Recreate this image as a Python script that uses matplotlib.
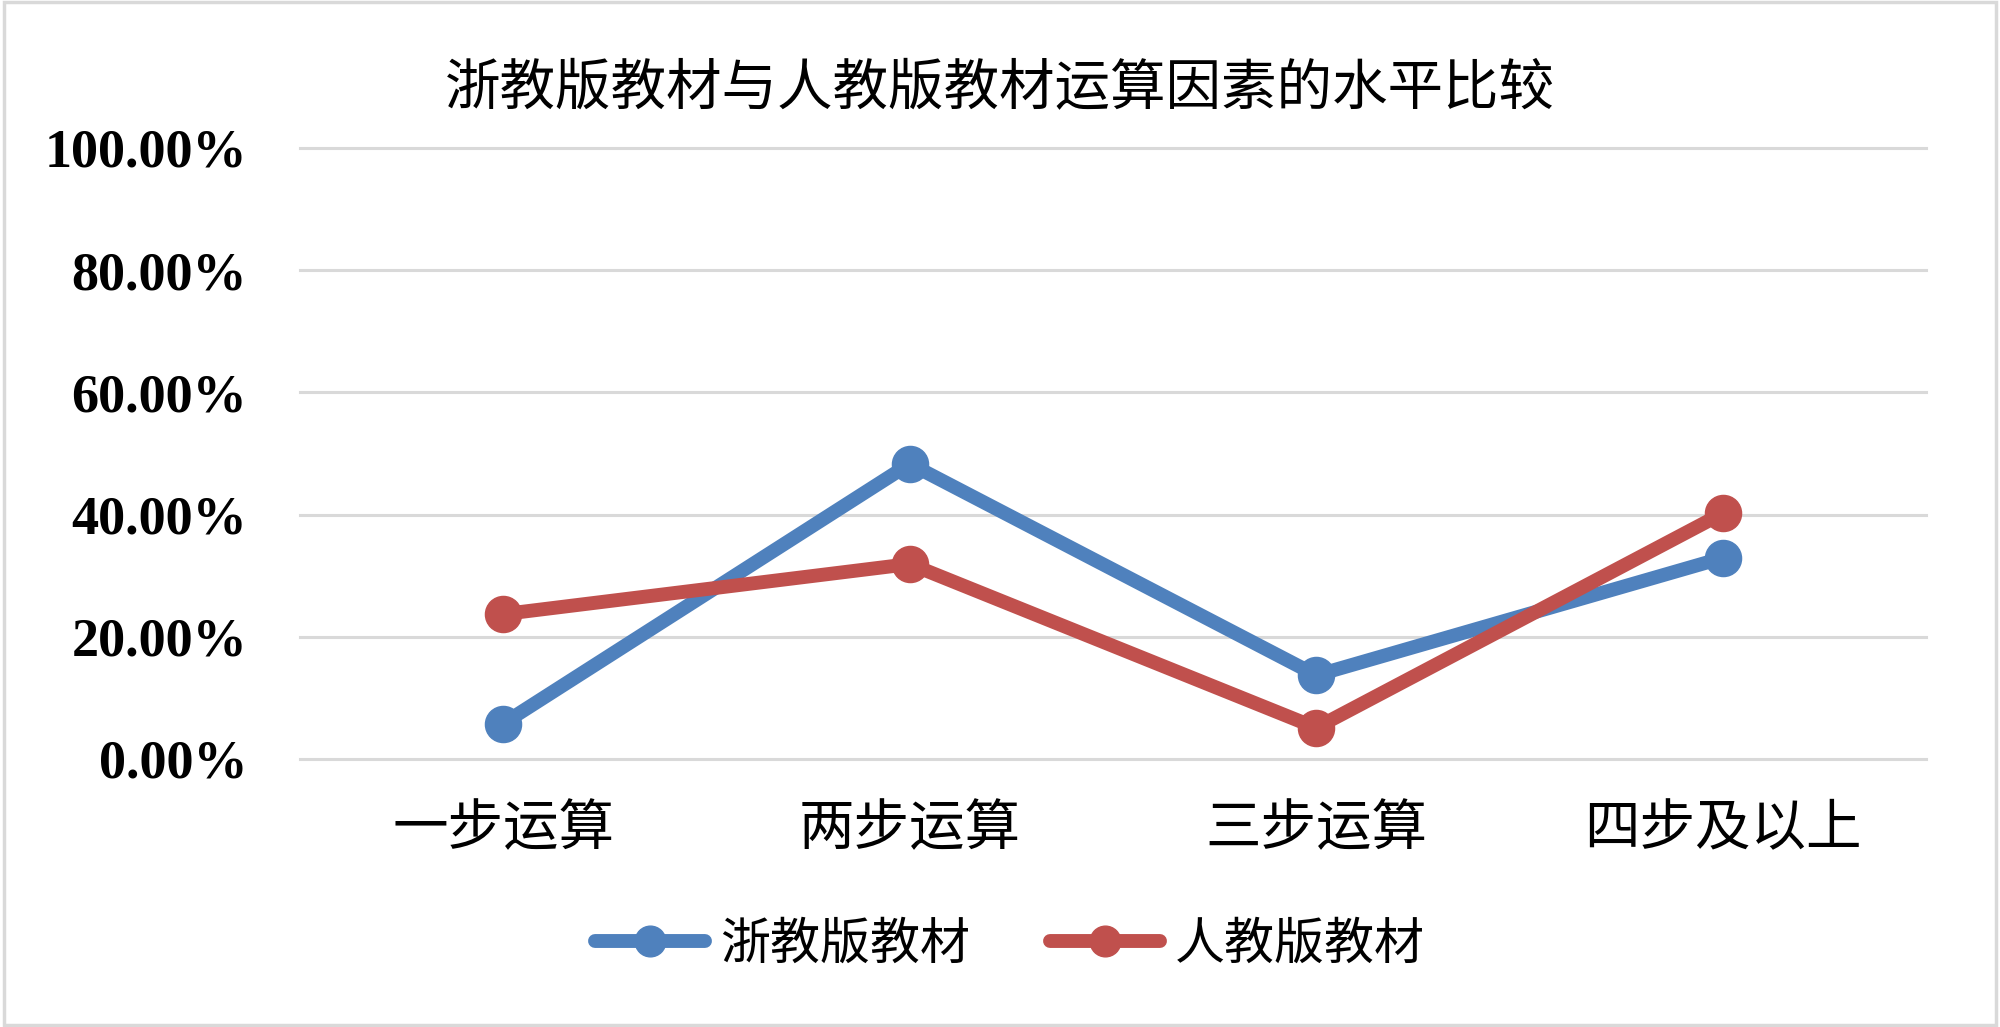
import matplotlib
matplotlib.use("Agg")
import matplotlib.pyplot as plt
from matplotlib.ticker import FuncFormatter
from matplotlib.patches import Rectangle

categories = ["一步运算", "两步运算", "三步运算", "四步及以上"]
zhejiang = [0.058, 0.483, 0.137, 0.329]
renjiao = [0.237, 0.319, 0.051, 0.402]
series_names = ["浙教版教材", "人教版教材"]
y_ticks = [0.0, 0.2, 0.4, 0.6, 0.8, 1.0]

cjk = ["Noto Sans CJK SC", "DejaVu Sans"]
plt.rcParams['font.family'] = cjk

fig = plt.figure(figsize=(20, 10.27), dpi=100)
fig.patch.set_facecolor("white")
fig.patches.append(Rectangle((0.002, 0.002), 0.996, 0.996, transform=fig.transFigure,
                             fill=False, edgecolor="#D9D9D9", linewidth=2.5))

ax = fig.add_axes([0.15, 0.261, 0.813, 0.595])
x = list(range(len(categories)))
ax.plot(x, zhejiang, color="#4F81BD", linewidth=10, marker="o", markersize=26,
        label=series_names[0], solid_capstyle="round", zorder=3)
ax.plot(x, renjiao, color="#C0504D", linewidth=10, marker="o", markersize=26,
        label=series_names[1], solid_capstyle="round", zorder=3)

ax.set_xlim(-0.5, 3.5)
ax.set_ylim(0, 1.0)
ax.set_yticks(y_ticks)
ax.yaxis.set_major_formatter(FuncFormatter(lambda v, p: f"{v*100:.2f}%"))
for yv in y_ticks:
    ax.axhline(yv, color="#D9D9D9", linewidth=2.2, zorder=1, clip_on=False)
for s in ax.spines.values():
    s.set_visible(False)
ax.tick_params(axis="both", length=0)
ax.tick_params(axis="y", pad=38)
ax.tick_params(axis="x", pad=30)
ax.set_xticks(x)
ax.set_xticklabels(categories, fontsize=40, family=cjk)
for lab in ax.get_yticklabels():
    lab.set_family(["Liberation Serif", "DejaVu Serif"])
    lab.set_fontweight("bold")
    lab.set_fontsize(39)

fig.text(0.5, 0.913, "浙教版教材与人教版教材运算因素的水平比较", ha="center", va="center",
         fontsize=40, family=cjk)

leg = fig.legend(loc="center", bbox_to_anchor=(0.505, 0.08), ncol=2, frameon=False,
                 prop={"family": cjk, "size": 36}, handlelength=2.2, columnspacing=1.6,
                 handletextpad=0.3, markerscale=0.85)

fig.savefig("out.png", dpi=100, facecolor="white")
